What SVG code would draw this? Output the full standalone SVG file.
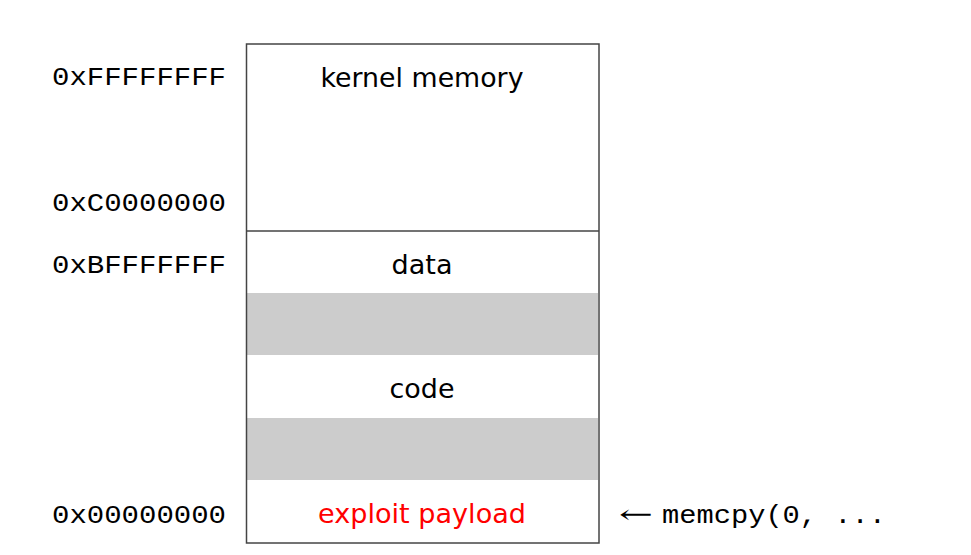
<svg xmlns="http://www.w3.org/2000/svg" width="971" height="555" viewBox="0 0 971 555">
<style>
.addr{font-family:"Liberation Mono","DejaVu Sans Mono",monospace;font-size:25px;fill:#000}
.lbl{font-family:"DejaVu Sans","Liberation Sans",sans-serif;font-size:27px;fill:#000;text-anchor:middle}
.gap{fill:#cccccc}
.frame{fill:none;stroke:#444;stroke-width:1.5}
</style>
<rect width="971" height="555" fill="#fff"/>
<g id="memory-map">
  <g id="kernel">
    <text class="lbl" x="422" y="87" textLength="203" lengthAdjust="spacingAndGlyphs">kernel memory</text>
  </g>
  <g id="data">
    <text class="lbl" x="422" y="274" textLength="61" lengthAdjust="spacingAndGlyphs">data</text>
  </g>
  <g id="gap1"><rect class="gap" x="247" y="293" width="351" height="62"/></g>
  <g id="code">
    <text class="lbl" x="422" y="398" textLength="65" lengthAdjust="spacingAndGlyphs">code</text>
  </g>
  <g id="gap2"><rect class="gap" x="247" y="418" width="351" height="62"/></g>
  <g id="payload">
    <text class="lbl" x="422" y="523" fill="#ff0000" style="fill:#ff0000" textLength="208" lengthAdjust="spacingAndGlyphs">exploit payload</text>
  </g>
  <rect class="frame" x="246.5" y="44" width="352.5" height="499"/>
  <line class="frame" x1="246.5" y1="231" x2="599" y2="231"/>
</g>
<g id="addresses">
  <text class="addr" x="52" y="85" textLength="174" lengthAdjust="spacingAndGlyphs">0xFFFFFFFF</text>
  <text class="addr" x="52" y="211" textLength="174" lengthAdjust="spacingAndGlyphs">0xC0000000</text>
  <text class="addr" x="52" y="273" textLength="174" lengthAdjust="spacingAndGlyphs">0xBFFFFFFF</text>
  <text class="addr" x="52" y="523" textLength="174" lengthAdjust="spacingAndGlyphs">0x00000000</text>
</g>
<g id="connectors">
  <text x="619" y="523" style="font-family:'DejaVu Serif','Liberation Serif',serif;font-size:26px" textLength="34" lengthAdjust="spacingAndGlyphs">←</text>
  <text class="addr" x="662" y="523" textLength="224" lengthAdjust="spacingAndGlyphs">memcpy(0, ...</text>
</g>
</svg>
